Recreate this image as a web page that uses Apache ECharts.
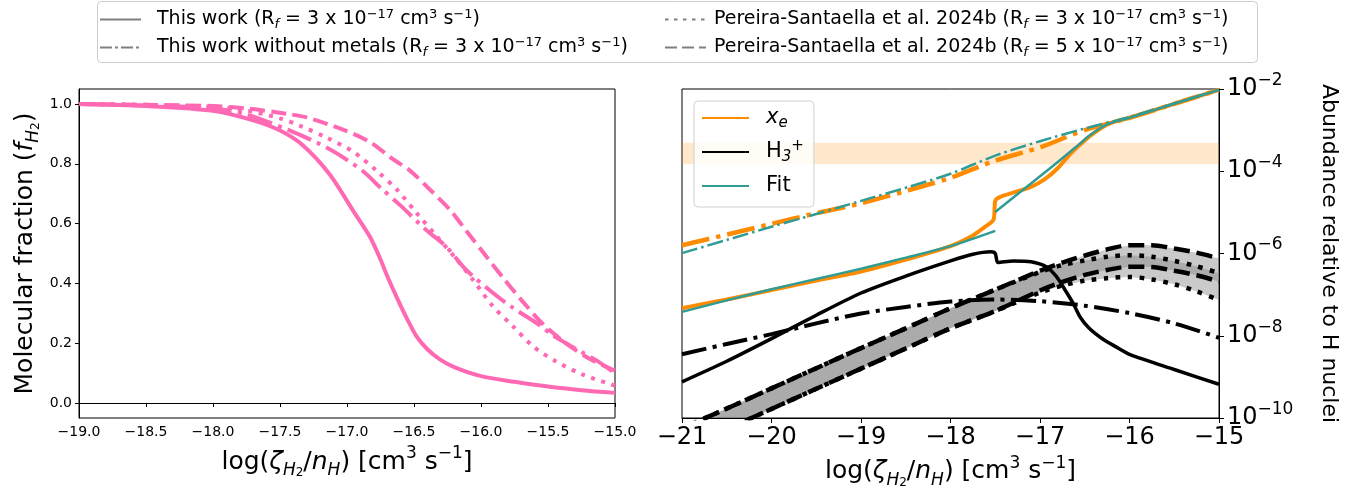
<!DOCTYPE html>
<html><head><meta charset="utf-8">
<script src="https://cdn.jsdelivr.net/npm/echarts@6/dist/echarts.min.js"></script>
<style>html,body{margin:0;padding:0;background:#fff}#c{width:1358px;height:496px}</style>
</head><body><div id="c"></div>
<script>
// ================= DATA =================
// Left panel: molecular fraction f_H2 vs log(zeta_H2/nH)
const fSolidX = [-19, -18.5, -18, -17.7, -17.5, -17.33, -17.13, -16.95, -16.83, -16.75, -16.7, -16.62, -16.55, -16.48, -16.4, -16.31, -16.2, -16.0, -15.75, -15.5, -15.25, -15.0];
const fSolidY = [1.0, 0.993, 0.977, 0.945, 0.911, 0.862, 0.765, 0.64, 0.557, 0.48, 0.425, 0.345, 0.28, 0.222, 0.18, 0.147, 0.12, 0.09, 0.071, 0.055, 0.043, 0.034];
const fNoMetX = [-19, -18.5, -18, -17.75, -17.45, -17.22, -17.07, -16.88, -16.75, -16.6, -16.41, -16.26, -16.11, -15.91, -15.76, -15.56, -15.46, -15.24, -15.13, -15.0];
const fNoMetY = [1.0, 0.995, 0.985, 0.965, 0.915, 0.87, 0.833, 0.775, 0.72, 0.66, 0.579, 0.523, 0.445, 0.368, 0.318, 0.26, 0.225, 0.168, 0.14, 0.10];
const fPS3X = [-19, -18.5, -18, -17.75, -17.5, -17.35, -17.15, -16.95, -16.78, -16.62, -16.48, -16.33, -16.18, -16.06, -15.91, -15.76, -15.61, -15.44, -15.24, -15.0];
const fPS3Y = [1.0, 0.997, 0.99, 0.978, 0.952, 0.927, 0.887, 0.839, 0.777, 0.71, 0.635, 0.557, 0.479, 0.412, 0.323, 0.256, 0.189, 0.139, 0.095, 0.058];
const fPS5X = [-19, -18.5, -18, -17.75, -17.45, -17.3, -17.03, -16.83, -16.66, -16.53, -16.38, -16.23, -16.1, -15.96, -15.82, -15.69, -15.54, -15.36, -15.19, -15.0];
const fPS5Y = [1.0, 0.997, 0.993, 0.985, 0.967, 0.955, 0.914, 0.873, 0.816, 0.777, 0.713, 0.645, 0.57, 0.49, 0.41, 0.34, 0.265, 0.198, 0.148, 0.108];
const fTicks = [0, 0.2, 0.4, 0.6, 0.8, 1.0];

// Right panel: log10 abundance relative to H nuclei
const xeX = [-21, -20.5, -20, -19.5, -19, -18.5, -18, -17.75, -17.62, -17.52, -17.5, -17.45, -17.3, -17.1, -16.95, -16.8, -16.65, -16.5, -16.35, -16.2, -16.0, -15.5, -15.0];
const xeY = [-7.33, -7.12, -6.89, -6.66, -6.44, -6.15, -5.82, -5.56, -5.36, -5.18, -4.72, -4.63, -4.52, -4.38, -4.2, -3.92, -3.55, -3.25, -3.0, -2.82, -2.7, -2.36, -2.02];
const xeNoMetX = [-21, -20.5, -20, -19.5, -19, -18.5, -18, -17.5, -17, -16.5, -16, -15.5, -15];
const xeNoMetY = [-5.80, -5.54, -5.28, -5.02, -4.78, -4.48, -4.16, -3.74, -3.42, -3.0, -2.70, -2.36, -2.02];
const fitX1 = [-21, -20.5, -20, -19.5, -19, -18.5, -18, -17.5];
const fitY1 = [-7.42, -7.14, -6.87, -6.62, -6.37, -6.10, -5.82, -5.45];
const fitX2 = [-17.5, -17.2, -16.86, -16.56, -16.44, -16.25, -16.0, -15.5, -15.0];
const fitY2 = [-4.99, -4.47, -3.88, -3.34, -3.12, -2.86, -2.70, -2.36, -2.02];
const fitNoMetX = [-21, -20.5, -20, -19.5, -19, -18.5, -18, -17.5, -17, -16.5, -16, -15.5, -15];
const fitNoMetY = [-5.99, -5.67, -5.35, -5.04, -4.72, -4.40, -4.06, -3.62, -3.27, -2.96, -2.68, -2.35, -2.02];
const h3X = [-21, -20.5, -20, -19.5, -19, -18.5, -18, -17.75, -17.55, -17.5, -17.47, -17.3, -17.1, -16.93, -16.82, -16.73, -16.63, -16.55, -16.45, -16.3, -16.15, -16.0, -15.5, -15.0];
const h3Y = [-9.12, -8.62, -8.07, -7.50, -6.96, -6.55, -6.18, -6.02, -5.96, -6.0, -6.22, -6.18, -6.20, -6.32, -6.55, -6.85, -7.21, -7.55, -7.82, -8.08, -8.27, -8.45, -8.82, -9.18];
const h3NoMetX = [-21, -20.5, -20, -19.5, -19, -18.5, -18, -17.5, -17, -16.5, -16, -15.5, -15];
const h3NoMetY = [-8.45, -8.20, -7.96, -7.70, -7.46, -7.30, -7.17, -7.12, -7.16, -7.27, -7.45, -7.70, -8.05];
const psX = [-21, -20.5, -20, -19.5, -19, -18.5, -18, -17.5, -17, -16.75, -16.5, -16.25, -16, -15.75, -15.5, -15.25, -15];
const ps5Hi = [-10.25, -9.77, -9.28, -8.79, -8.30, -7.82, -7.33, -6.88, -6.42, -6.22, -6.05, -5.90, -5.80, -5.80, -5.88, -5.98, -6.12];
const ps5Lo = [-10.74, -10.27, -9.78, -9.29, -8.80, -8.31, -7.82, -7.40, -6.90, -6.69, -6.52, -6.40, -6.32, -6.33, -6.42, -6.53, -6.68];
const ps3Hi = [-10.25, -9.77, -9.28, -8.79, -8.30, -7.82, -7.33, -6.88, -6.45, -6.28, -6.17, -6.08, -6.04, -6.08, -6.18, -6.31, -6.48];
const ps3Lo = [-10.74, -10.27, -9.78, -9.29, -8.80, -8.31, -7.82, -7.40, -6.95, -6.78, -6.66, -6.60, -6.57, -6.63, -6.75, -6.92, -7.13];
const bandRange = [-3.83, -3.31];

// Legend labels
const legendTop = {
  tw: 'This work (R{sb|f} = 3 x 10{sp|−17} cm{sp|3} s{sp|−1})',
  twnm: 'This work without metals (R{sb|f} = 3 x 10{sp|−17} cm{sp|3} s{sp|−1})',
  ps3: 'Pereira-Santaella et al. 2024b (R{sb|f} = 3 x 10{sp|−17} cm{sp|3} s{sp|−1})',
  ps5: 'Pereira-Santaella et al. 2024b (R{sb|f} = 5 x 10{sp|−17} cm{sp|3} s{sp|−1})'
};
const legendRight = { xe: '{i|x}{sb|e}', h3: 'H{sb|3}{sp|+}', fit: 'Fit' };

// ================= STYLE =================
const FONT = 'DejaVu Sans';
const PINK = '#ff69b4', ORANGE = '#ff8c00', TEAL = '#2f9c95', GRAYL = '#808080';
const zip = (xs, ys) => xs.map((x, i) => [x, ys[i]]);
const minus = s => String(s).replace('-', '\u2212');

const nameRich = {
  i: { fontStyle: 'italic', fontSize: 25, fontFamily: FONT, lineHeight: 34 },
  s: { fontStyle: 'italic', fontSize: 17, fontFamily: FONT, verticalAlign: 'bottom', lineHeight: 20 },
  ss: { fontSize: 12, fontFamily: FONT, verticalAlign: 'bottom', lineHeight: 8 },
  p: { fontSize: 17, fontFamily: FONT, verticalAlign: 'top', lineHeight: 18 }
};
const xName = 'log({i|ζ}{s|H}{ss|2}/{i|n}{s|H}) [cm{p|3} s{p|−1}]';

function pinkLine(name, xs, ys, type) {
  return { type: 'line', name, xAxisIndex: 0, yAxisIndex: 0, data: zip(xs, ys), symbol: 'none',
    smooth: 0.3, lineStyle: { color: PINK, width: 4, type }, z: 3 };
}
function rLine(name, xs, ys, color, width, type, smooth) {
  return { type: 'line', name, xAxisIndex: 1, yAxisIndex: 1, data: zip(xs, ys), symbol: 'none',
    smooth: smooth, lineStyle: { color, width, type }, z: 3 };
}
function band(hi, lo) {
  return { type: 'custom', xAxisIndex: 1, yAxisIndex: 1, data: [[psX[0], hi[0]]], z: 2, silent: true,
    renderItem: (params, api) => {
      const pts = psX.map((x, i) => api.coord([x, hi[i]]))
        .concat(psX.map((x, i) => api.coord([x, lo[i]])).reverse());
      const cs = params.coordSys;
      return { type: 'polygon', shape: { points: pts }, style: { fill: 'rgba(128,128,128,0.42)' },
        clipPath: { type: 'rect', shape: { x: cs.x, y: cs.y, width: cs.width, height: cs.height } } };
    } };
}
function dummy(name, color, width, type) {
  return { type: 'line', name, xAxisIndex: 0, yAxisIndex: 0, data: [], symbol: 'none',
    lineStyle: { color, width, type } };
}
const DASH = [15, 6.4], DOT = [4, 6.6], DASHDOT = [25.6, 6.4, 4, 6.4];
const topRich = {
  sb: { fontSize: 13, fontStyle: 'italic', verticalAlign: 'bottom', lineHeight: 13, fontFamily: FONT },
  sp: { fontSize: 13, verticalAlign: 'top', lineHeight: 13, fontFamily: FONT }
};

const option = {
  animation: false,
  backgroundColor: '#fff',
  textStyle: { fontFamily: FONT },
  graphic: [{ type: 'rect', z: 0, shape: { x: 97.5, y: 1.5, width: 1160, height: 61, r: 4 },
    style: { fill: '#fff', stroke: '#cccccc', lineWidth: 1 } }],
  grid: [
    { left: 79, top: 89, width: 536, height: 329, show: true, borderColor: '#000', borderWidth: 1, backgroundColor: 'transparent' },
    { left: 682, top: 89, width: 537, height: 329, show: true, borderColor: '#000', borderWidth: 1, backgroundColor: 'transparent' }
  ],
  legend: [
    { data: ['tw', 'twnm'], orient: 'vertical', left: 99, top: 8, padding: 0, itemWidth: 41, itemHeight: 14, itemGap: 5,
      selectedMode: false, itemStyle: { opacity: 0 },
      formatter: n => legendTop[n],
      textStyle: { fontSize: 19, fontFamily: FONT, color: '#000', lineHeight: 23, padding: [0, 0, 0, 11], rich: topRich } },
    { data: ['ps3', 'ps5'], orient: 'vertical', left: 664, top: 8, padding: 0, itemWidth: 41, itemHeight: 14, itemGap: 5,
      selectedMode: false, itemStyle: { opacity: 0 },
      formatter: n => legendTop[n],
      textStyle: { fontSize: 19, fontFamily: FONT, color: '#000', lineHeight: 23, padding: [0, 0, 0, 3], rich: topRich } },
    { data: ['xe', 'h3', 'fit'], orient: 'vertical', left: 694, top: 101, padding: [4, 10, 8, 7],
      itemWidth: 47, itemHeight: 14, itemGap: 8, selectedMode: false, itemStyle: { opacity: 0 },
      backgroundColor: 'rgba(255,255,255,0.8)', borderColor: '#d0d0d0', borderWidth: 1, borderRadius: 4,
      formatter: n => legendRight[n],
      textStyle: { fontSize: 21, fontFamily: FONT, color: '#000', lineHeight: 26, padding: [0, 0, 0, 12],
        rich: { i: { fontStyle: 'italic', fontSize: 21, fontFamily: FONT, lineHeight: 26 },
                sb: { fontSize: 15, fontStyle: 'italic', verticalAlign: 'bottom', lineHeight: 14, fontFamily: FONT },
                sp: { fontSize: 15, verticalAlign: 'top', lineHeight: 14, fontFamily: FONT } } } }
  ],
  xAxis: [
    { type: 'value', gridIndex: 0, min: -19, max: -15, interval: 0.5,
      axisLine: { show: true, lineStyle: { color: '#000', width: 1 } },
      axisTick: { show: true, inside: false, length: 4, lineStyle: { color: '#000' } },
      axisLabel: { fontSize: 14, color: '#000', margin: 7, fontFamily: FONT, formatter: v => minus(v.toFixed(1)) },
      splitLine: { show: false },
      name: xName, nameLocation: 'middle', nameGap: 27,
      nameTextStyle: { fontSize: 25, color: '#000', fontFamily: FONT, lineHeight: 34, rich: nameRich } },
    { type: 'value', gridIndex: 1, min: -21, max: -15, interval: 1,
      axisLine: { show: true, lineStyle: { color: '#000', width: 1 } },
      axisTick: { show: true, inside: false, length: 5, lineStyle: { color: '#000' } },
      axisLabel: { fontSize: 24, color: '#000', margin: 8, fontFamily: FONT, formatter: v => minus(v) },
      splitLine: { show: false },
      name: xName, nameLocation: 'middle', nameGap: 33,
      nameTextStyle: { fontSize: 25, color: '#000', fontFamily: FONT, lineHeight: 34, rich: nameRich } }
  ],
  yAxis: [
    { type: 'value', gridIndex: 0, min: -0.05, max: 1.05,
      axisLine: { show: true, lineStyle: { color: '#000', width: 1 } },
      axisTick: { show: true, inside: false, length: 4, lineStyle: { color: '#000' }, customValues: fTicks },
      axisLabel: { fontSize: 14, color: '#000', margin: 7, fontFamily: FONT, customValues: fTicks, formatter: v => v.toFixed(1) },
      splitLine: { show: false },
      name: 'Molecular fraction ({i|f}{s|H}{ss|2})', nameLocation: 'middle', nameGap: 37, nameRotate: 90,
      nameTextStyle: { fontSize: 25, color: '#000', fontFamily: FONT, lineHeight: 34, rich: nameRich } },
    { type: 'value', gridIndex: 1, min: -10, max: -2, interval: 2, position: 'right',
      axisLine: { show: true, lineStyle: { color: '#000', width: 1 } },
      axisTick: { show: true, inside: false, length: 5, lineStyle: { color: '#000' } },
      axisLabel: { color: '#000', margin: 8, fontFamily: FONT,
        formatter: v => '{b|10}{e|' + minus(v) + '}',
        rich: { b: { fontSize: 24, fontFamily: FONT, lineHeight: 34 },
                e: { fontSize: 17, fontFamily: FONT, verticalAlign: 'top', lineHeight: 15 } } },
      splitLine: { show: false },
      name: 'Abundance relative to H nuclei', nameLocation: 'middle', nameGap: 99, nameRotate: -90,
      nameTextStyle: { fontSize: 22, color: '#000', fontFamily: FONT } }
  ],
  series: [
    // legend-only entries
    dummy('tw', GRAYL, 3.5, 'solid'), dummy('twnm', GRAYL, 3.5, [12, 3, 3, 3]),
    dummy('ps3', GRAYL, 3.5, [3.5, 5.5]), dummy('ps5', GRAYL, 3.5, [12, 5]),
    dummy('xe', ORANGE, 4, 'solid'), dummy('h3', '#000', 4, 'solid'), dummy('fit', TEAL, 4, 'solid'),
    // left panel
    pinkLine('fSolid', fSolidX, fSolidY, 'solid'),
    pinkLine('fNoMet', fNoMetX, fNoMetY, DASHDOT),
    pinkLine('fPS3', fPS3X, fPS3Y, DOT),
    pinkLine('fPS5', fPS5X, fPS5Y, DASH),
    // right panel: orange observational band
    { type: 'line', name: 'bandHolder', xAxisIndex: 1, yAxisIndex: 1, data: [], symbol: 'none', z: 1,
      markArea: { silent: true, itemStyle: { color: 'rgba(255,140,0,0.2)' },
        data: [[{ yAxis: bandRange[0] }, { yAxis: bandRange[1] }]] } },
    band(ps5Hi, ps5Lo),
    band(ps3Hi, ps3Lo),
    rLine('ps5Hi', psX, ps5Hi, '#000', 4.5, [16, 7], 0.3),
    rLine('ps5Lo', psX, ps5Lo, '#000', 4.5, [16, 7], 0.3),
    rLine('ps3Hi', psX, ps3Hi, '#000', 4.5, [4.5, 7.5], 0.3),
    rLine('ps3Lo', psX, ps3Lo, '#000', 4.5, [4.5, 7.5], 0.3),
    rLine('h3NoMet', h3NoMetX, h3NoMetY, '#000', 4, [25, 6.4, 4, 6.4], 0.3),
    rLine('h3', h3X, h3Y, '#000', 3.5, 'solid', 0.25),
    rLine('xeNoMet', xeNoMetX, xeNoMetY, ORANGE, 4.5, [28, 7, 4.5, 7], 0.3),
    rLine('xe', xeX, xeY, ORANGE, 4, 'solid', 0.25),
    rLine('fitNoMet', fitNoMetX, fitNoMetY, TEAL, 2.5, [16, 4, 2.5, 4], 0.3),
    rLine('fit1', fitX1, fitY1, TEAL, 2.5, 'solid', 0.3),
    rLine('fit2', fitX2, fitY2, TEAL, 2.5, 'solid', 0.3)
  ]
};
const chart = echarts.init(document.getElementById('c'), null, { renderer: 'canvas' });
chart.setOption(option);
</script></body></html>
